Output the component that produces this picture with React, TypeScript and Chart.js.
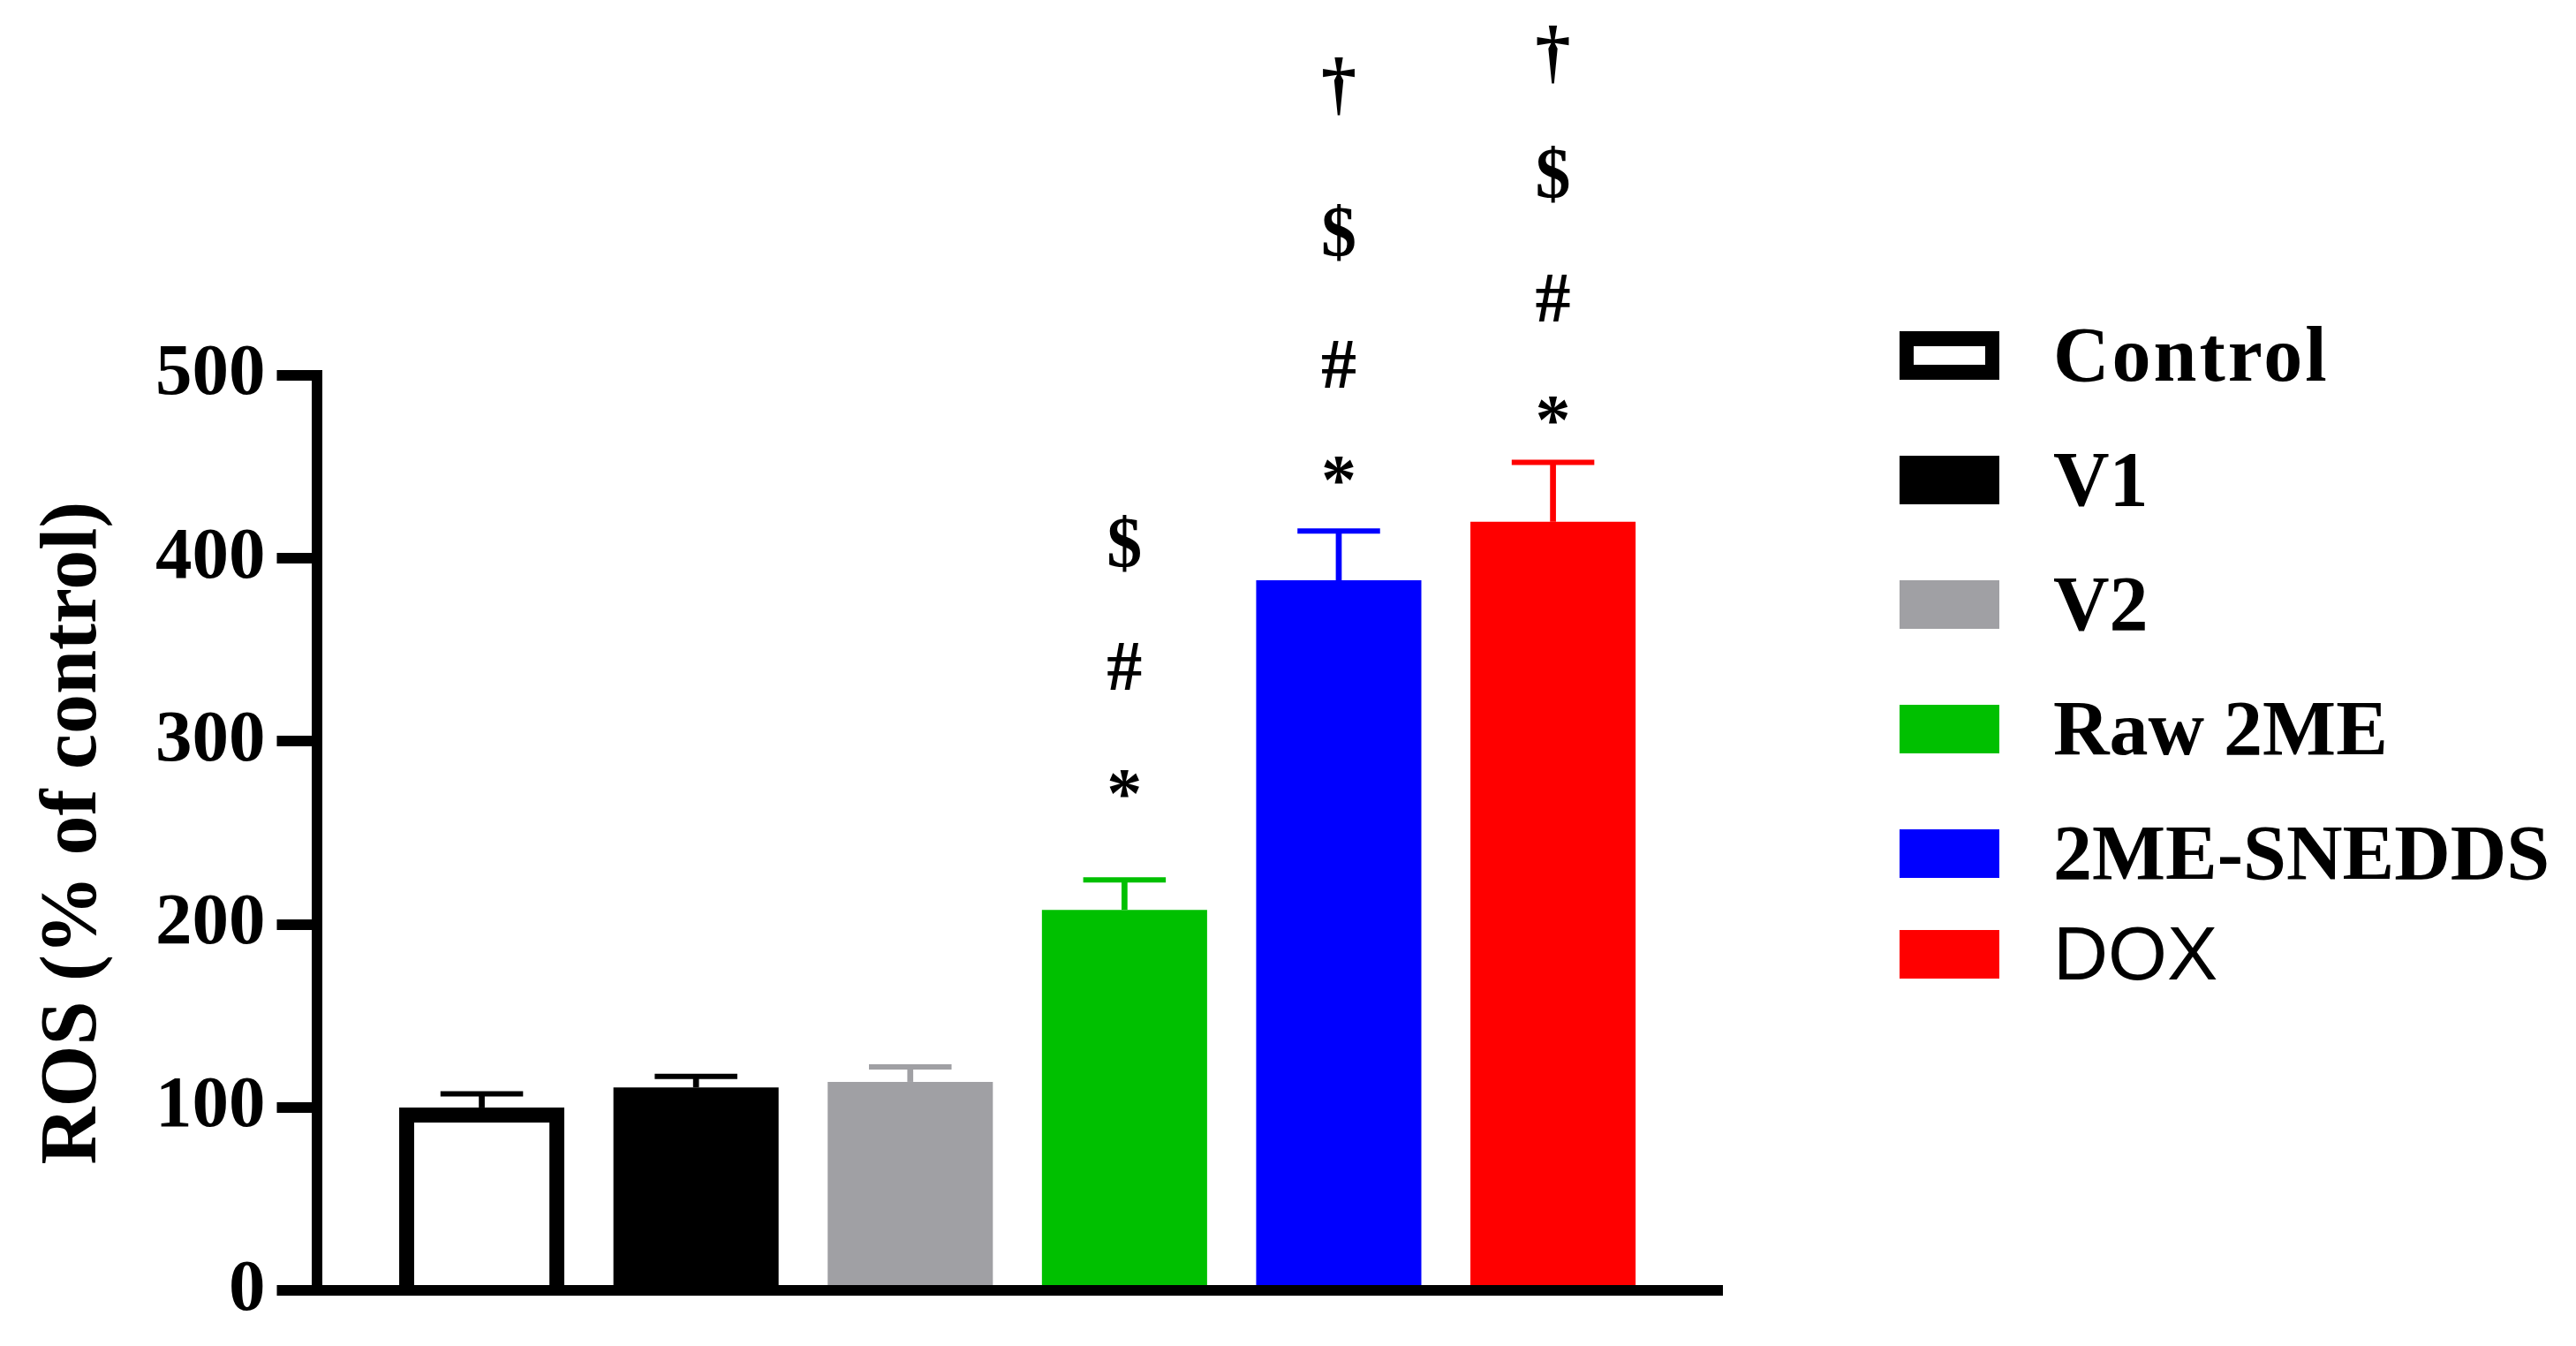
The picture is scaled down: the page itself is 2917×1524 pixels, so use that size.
import React, { useEffect, useRef } from "react";
import { Chart, registerables } from "chart.js";

Chart.register(...registerables);

const categories = ["Control", "V1", "V2", "Raw 2ME", "2ME-SNEDDS", "DOX"];
const rosMean = [100, 111, 114, 208, 388, 420];
const rosSem = [7.5, 6, 8.2, 16.3, 27, 32.5];
const barFill = ["#FFFFFF", "#000000", "#A0A0A4", "#00C000", "#0000FF", "#FF0000"];
const barEdge = ["#000000", "#000000", "#A0A0A4", "#00C000", "#0000FF", "#FF0000"];
const barEdgeWidth = [17, 0, 0, 0, 0, 0];
const yMin = 0;
const yMax = 500;
const yStep = 100;
const yTitle = "ROS (% of control)";
const sigSymbols = [[], [], [], ["*", "#", "$"], ["*", "#", "$", "†"], ["*", "#", "$", "†"]];
const sigLevels = [[], [], [], [277, 341, 408], [448, 506, 578, 658], [481, 542, 610, 675]];

const SERIF = "'Liberation Serif', 'Times New Roman', serif";
const SANS = "'Liberation Sans', Arial, sans-serif";

const errorBarsPlugin = {
  id: "errorBars",
  afterDatasetsDraw(chart: any) {
    const ctx = chart.ctx;
    const meta = chart.getDatasetMeta(0);
    const y = chart.scales.y;
    meta.data.forEach((bar: any, i: number) => {
      const x = bar.x;
      const top = y.getPixelForValue(rosMean[i]);
      const end = y.getPixelForValue(rosMean[i] + rosSem[i]);
      const half = bar.width / 4;
      ctx.save();
      ctx.strokeStyle = barEdge[i];
      ctx.lineCap = "butt";
      ctx.lineWidth = 6.7;
      ctx.beginPath();
      ctx.moveTo(x, top);
      ctx.lineTo(x, end);
      ctx.stroke();
      ctx.lineWidth = 6;
      ctx.beginPath();
      ctx.moveTo(x - half, end);
      ctx.lineTo(x + half, end);
      ctx.stroke();
      ctx.restore();
    });
  },
};

const annotationsPlugin = {
  id: "sigMarks",
  afterDatasetsDraw(chart: any) {
    const ctx = chart.ctx;
    const meta = chart.getDatasetMeta(0);
    const y = chart.scales.y;
    ctx.save();
    ctx.fillStyle = "#000000";
    ctx.font = `bold 80px ${SERIF}`;
    ctx.textAlign = "center";
    ctx.textBaseline = "alphabetic";
    meta.data.forEach((bar: any, i: number) => {
      sigSymbols[i].forEach((s: string, k: number) => {
        const m = ctx.measureText(s);
        const yc = y.getPixelForValue(sigLevels[i][k]);
        const by = yc + (m.actualBoundingBoxAscent - m.actualBoundingBoxDescent) / 2;
        ctx.fillText(s, bar.x, by);
      });
    });
    ctx.restore();
  },
};

const titlePlugin = {
  id: "yTitle",
  afterDraw(chart: any) {
    const ctx = chart.ctx;
    const area = chart.chartArea;
    ctx.save();
    ctx.translate(108, (area.top + area.bottom) / 2);
    ctx.rotate(-Math.PI / 2);
    ctx.font = `bold 90px ${SERIF}`;
    ctx.fillStyle = "#000000";
    ctx.textAlign = "center";
    ctx.textBaseline = "alphabetic";
    ctx.fillText(yTitle, 0, 0);
    ctx.restore();
  },
};

const legendPlugin = {
  id: "sideLegend",
  afterDraw(chart: any) {
    const ctx = chart.ctx;
    const boxLeft = 2151;
    const boxW = 113;
    const boxH = 55;
    const textX = 2325;
    const firstCenter = 402.5;
    const step = 141;
    ctx.save();
    categories.forEach((name, i) => {
      const isLast = i === categories.length - 1;
      const cy = firstCenter + step * i - (isLast ? 27 : 0);
      const top = cy - boxH / 2;
      if (barEdgeWidth[i] > 0) {
        ctx.fillStyle = barEdge[i];
        ctx.fillRect(boxLeft, top, boxW, boxH);
        ctx.fillStyle = barFill[i];
        ctx.fillRect(boxLeft + 16, top + 17, boxW - 32, boxH - 34);
      } else {
        ctx.fillStyle = barFill[i];
        ctx.fillRect(boxLeft, top, boxW, boxH);
      }
      ctx.fillStyle = "#000000";
      ctx.textAlign = "left";
      ctx.textBaseline = "alphabetic";
      ctx.font = isLast ? `86px ${SANS}` : `bold 88px ${SERIF}`;
      (ctx as any).letterSpacing = i === 0 ? "3px" : "0px";
      ctx.fillText(name, textX, top + boxH + 1);
    });
    (ctx as any).letterSpacing = "0px";
    ctx.restore();
  },
};

export default function App() {
  const canvasRef = useRef<HTMLCanvasElement | null>(null);

  useEffect(() => {
    if (!canvasRef.current) return;
    const chart = new Chart(canvasRef.current, {
      type: "bar",
      data: {
        labels: categories,
        datasets: [
          {
            label: "ROS",
            data: rosMean.map((v, i) => ({ x: i, y: v })),
            backgroundColor: barFill,
            borderColor: barEdge,
            borderWidth: barEdgeWidth,
            borderSkipped: "start",
            barPercentage: 0.771,
            categoryPercentage: 1,
          } as any,
        ],
      },
      options: {
        responsive: false,
        animation: false,
        events: [],
        layout: { padding: { top: 425, bottom: 62, left: 0, right: 967 } },
        plugins: {
          legend: { display: false },
          tooltip: { enabled: false },
          title: { display: false },
        },
        scales: {
          x: {
            type: "linear",
            offset: false,
            min: -0.771,
            max: 5.789,
            ticks: { display: false, stepSize: 1, includeBounds: false },
            grid: { display: false, lineWidth: 1 },
            border: { display: true, color: "#000000", width: 12, z: 2 },
            afterFit(scale: any) {
              scale.height = 0;
            },
          },
          y: {
            min: yMin,
            max: yMax,
            ticks: {
              stepSize: yStep,
              color: "#000000",
              padding: 13,
              font: { family: SERIF, size: 83, weight: "bold" },
              z: 2,
            },
            grid: {
              display: true,
              drawOnChartArea: false,
              drawTicks: true,
              tickLength: 45,
              lineWidth: 12,
              tickColor: "#000000",
              color: "#000000",
              z: 2,
            },
            border: { display: true, color: "#000000", width: 12, z: 2 },
            afterFit(scale: any) {
              scale.width = 358.5;
            },
          },
        },
      } as any,
      plugins: [errorBarsPlugin, annotationsPlugin, titlePlugin, legendPlugin],
    });
    return () => chart.destroy();
  }, []);

  return (
    <div style={{ position: "fixed", left: 0, top: 0, width: 2917, height: 1524, background: "#FFFFFF" }}>
      <canvas ref={canvasRef} width={2917} height={1524} style={{ display: "block" }} />
    </div>
  );
}
